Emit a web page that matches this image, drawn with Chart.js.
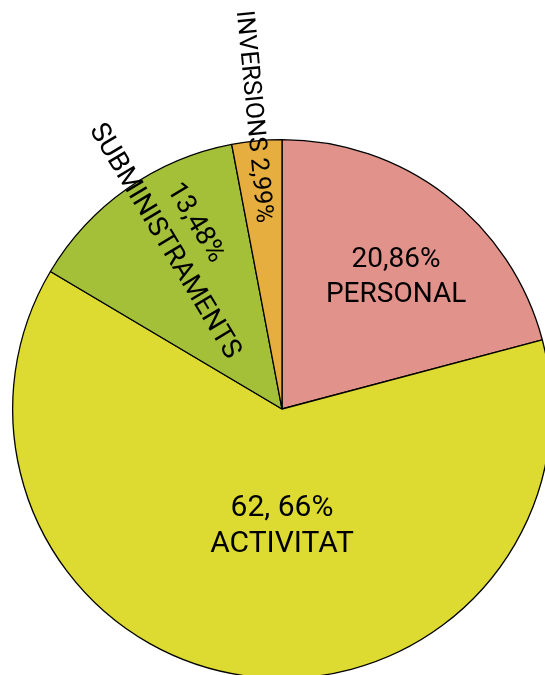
<!DOCTYPE html>
<html lang="ca">
<head>
<meta charset="utf-8">
<title>Distribució de la despesa</title>
<script src="https://cdn.jsdelivr.net/npm/chart.js@4.4.1/dist/chart.umd.min.js"></script>
<style>
    html, body { margin: 0; padding: 0; background: #ffffff; overflow: hidden; }
    #wrap { position: absolute; left: 0; top: 0; width: 600px; height: 700px; }
</style>
</head>
<body>
<div id="wrap"><canvas id="pieChart" width="600" height="700"></canvas></div>
<script>
// --- Data ---
const categories = ['PERSONAL', 'ACTIVITAT', 'SUBMINISTRAMENTS', 'INVERSIONS'];
const shares = [20.86, 62.66, 13.48, 2.99];
const shareLabels = ['20,86%', '62, 66%', '13,48%', '2,99%'];

document.addEventListener('DOMContentLoaded', () => {

    // --- Label placement (per slice) ---
    // r = fraction of radius, da = angle nudge in degrees, rot = text rotation in degrees
    const labelLayout = [
        { r: 0.645, da: 3.5, rot: 0, size: 28, gap: 35, lines: (name, val) => [val, name] },
        { r: 0.437, da: -7.9, rot: 0, size: 30, gap: 36, lines: (name, val) => [val, name] },
        { r: 0.758, da: 5, rot: 59, size: 27.5, gap: 36, lines: (name, val) => [val, name] },
        { r: 1.09, da: -0.25, rot: 84.5, size: 25, gap: 0, lines: (name, val) => [name + ' ' + val] }
    ];

    const sliceLabels = {
        id: 'sliceLabels',
        afterDatasetsDraw(chart) {
            const ctx = chart.ctx;
            const meta = chart.getDatasetMeta(0);
            meta.data.forEach((arc, i) => {
                const p = arc.getProps(['x', 'y', 'startAngle', 'endAngle', 'outerRadius'], true);
                const cfg = labelLayout[i];
                const mid = (p.startAngle + p.endAngle) / 2 + cfg.da * Math.PI / 180;
                const px = p.x + Math.cos(mid) * p.outerRadius * cfg.r;
                const py = p.y + Math.sin(mid) * p.outerRadius * cfg.r;
                const lines = cfg.lines(categories[i], shareLabels[i]);

                ctx.save();
                ctx.translate(px, py);
                ctx.rotate(cfg.rot * Math.PI / 180);
                ctx.fillStyle = '#000000';
                ctx.font = cfg.size + 'px Roboto, "Liberation Sans", sans-serif';
                ctx.textAlign = 'center';
                ctx.textBaseline = 'middle';
                lines.forEach((line, k) => {
                    ctx.fillText(line, 0, (k - (lines.length - 1) / 2) * cfg.gap);
                });
                ctx.restore();
            });
        }
    };

    // --- Chart Rendering ---
    const ctx = document.getElementById('pieChart').getContext('2d');
    new Chart(ctx, {
        type: 'pie',
        data: {
            labels: categories,
            datasets: [{
                data: shares,
                backgroundColor: ['#e1928a', '#dddb32', '#a3c038', '#e6ae3f'],
                borderColor: '#000000',
                borderWidth: 1.3
            }]
        },
        options: {
            responsive: false,
            animation: false,
            layout: { padding: { left: 12, top: 139, right: 48, bottom: 21 } },
            plugins: {
                legend: { display: false },
                tooltip: { enabled: false },
                title: { display: false }
            }
        },
        plugins: [sliceLabels]
    });

});
</script>
</body>
</html>
